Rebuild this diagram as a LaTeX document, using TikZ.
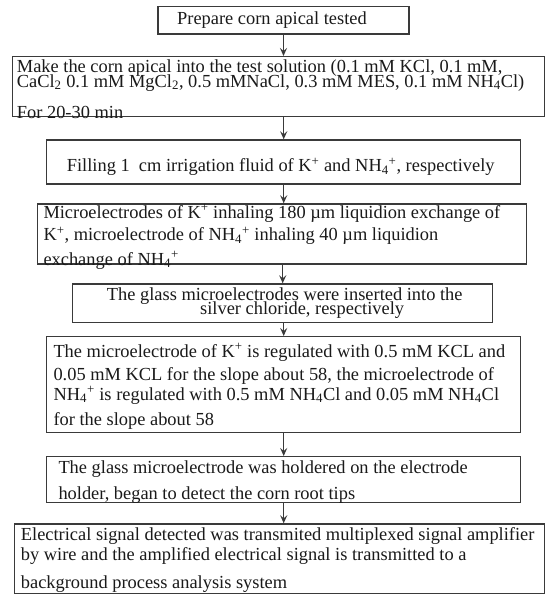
\documentclass[tikz,border=0pt]{standalone}
\usepackage{fontspec}
\setmainfont{Liberation Serif}
\usetikzlibrary{arrows.meta}
\definecolor{linegray}{HTML}{3A3A3A}
\definecolor{txtgray}{HTML}{1A1A1A}
\newcommand{\ionSP}[2]{\textsubscript{#1}\textsuperscript{#2}}
\begin{document}
\begin{tikzpicture}[x=1pt,y=-1pt,
  stepbox/.style={draw=linegray, line width=1.4pt, inner sep=0pt, anchor=north west},
  txt/.style={anchor=base west, inner sep=0pt, text=txtgray, font=\fontsize{18.4pt}{20pt}\selectfont},
  arr/.style={draw=linegray, line width=1.3pt, -{Stealth[length=8pt,width=7pt,inset=3pt]}}]
\useasboundingbox (0,0) rectangle (545,594);
\fill[white] (0,0) rectangle (545,594);
% boxes
\node[stepbox, minimum width=251pt, minimum height=27.6pt] (b1) at (157.3,5.7) {};
\node[stepbox, minimum width=532pt, minimum height=60pt] (b2) at (12,56) {};
\node[stepbox, minimum width=474pt, minimum height=44pt] (b3) at (46,139.3) {};
\node[stepbox, minimum width=489pt, minimum height=60pt] (b4) at (37,203.3) {};
\node[stepbox, minimum width=420pt, minimum height=38.4pt] (b5) at (72,283.3) {};
\node[stepbox, minimum width=474pt, minimum height=95.7pt] (b6) at (46,336) {};
\node[stepbox, minimum width=474pt, minimum height=45.7pt] (b7) at (46,456) {};
\node[stepbox, minimum width=529.5pt, minimum height=69.7pt] (b8) at (14,523.3) {};
% texts
\node[txt] (t1) at (177,24.5) {Prepare corn apical tested};
\node[txt] (t21) at (16.7,72.5) {Make the corn apical into the test solution (0.1 mM KCl, 0.1 mM,};
\node[txt] (t22) at (16.7,87) {CaCl\textsubscript{2} 0.1 mM MgCl\textsubscript{2}, 0.5 mMNaCl, 0.3 mM MES, 0.1 mM NH\textsubscript{4}Cl)};
\node[txt] (t23) at (16.7,118) {For 20-30 min};
\node[txt] (t3) at (66.7,171.5) {Filling 1~ cm irrigation fluid of K\textsuperscript{+} and NH\ionSP{4}{+}, respectively};
\node[txt] (t41) at (43.3,218) {Microelectrodes of K\textsuperscript{+} inhaling 180 µm liquidion exchange of};
\node[txt] (t42) at (43.3,240.5) {K\textsuperscript{+}, microelectrode of NH\ionSP{4}{+} inhaling 40 µm liquidion};
\node[txt] (t43) at (43.3,265) {exchange of NH\ionSP{4}{+}};
\node[txt] (t51) at (106.7,300) {The glass microelectrodes were inserted into the};
\node[txt] (t52) at (200,314) {silver chloride, respectively};
\node[txt] (t61) at (53.3,357) {The microelectrode of K\textsuperscript{+} is regulated with 0.5 mM KCL and};
\node[txt] (t62) at (53.3,380) {0.05 mM KCL for the slope about 58, the microelectrode of};
\node[txt] (t63) at (53.3,400) {NH\ionSP{4}{+} is regulated with 0.5 mM NH\textsubscript{4}Cl and 0.05 mM NH\textsubscript{4}Cl};
\node[txt] (t64) at (53.3,425) {for the slope about 58};
\node[txt] (t71) at (58.3,473.5) {The glass microelectrode was holdered on the electrode};
\node[txt] (t72) at (58.3,499.5) {holder, began to detect the corn root tips};
\node[txt] (t81) at (20.7,540) {Electrical signal detected was transmited multiplexed signal amplifier};
\node[txt] (t82) at (20.7,560) {by wire and the amplified electrical signal is transmitted to a};
\node[txt] (t83) at (20.7,588) {background process analysis system};
% connectors
\draw[arr] (b1.south) -- (b1.south |- b2.north);
\draw[arr] (b3.north |- b2.south) -- (b3.north);
\draw[arr] (b3.south) -- (b3.south |- b4.north);
\draw[arr] (b5.north |- b4.south) -- (b5.north);
\draw[arr] (b6.north |- b5.south) -- (b6.north);
\draw[arr] (b6.south) -- (b7.north);
\draw[arr] (b7.south) -- (b7.south |- b8.north);
\end{tikzpicture}
\end{document}
